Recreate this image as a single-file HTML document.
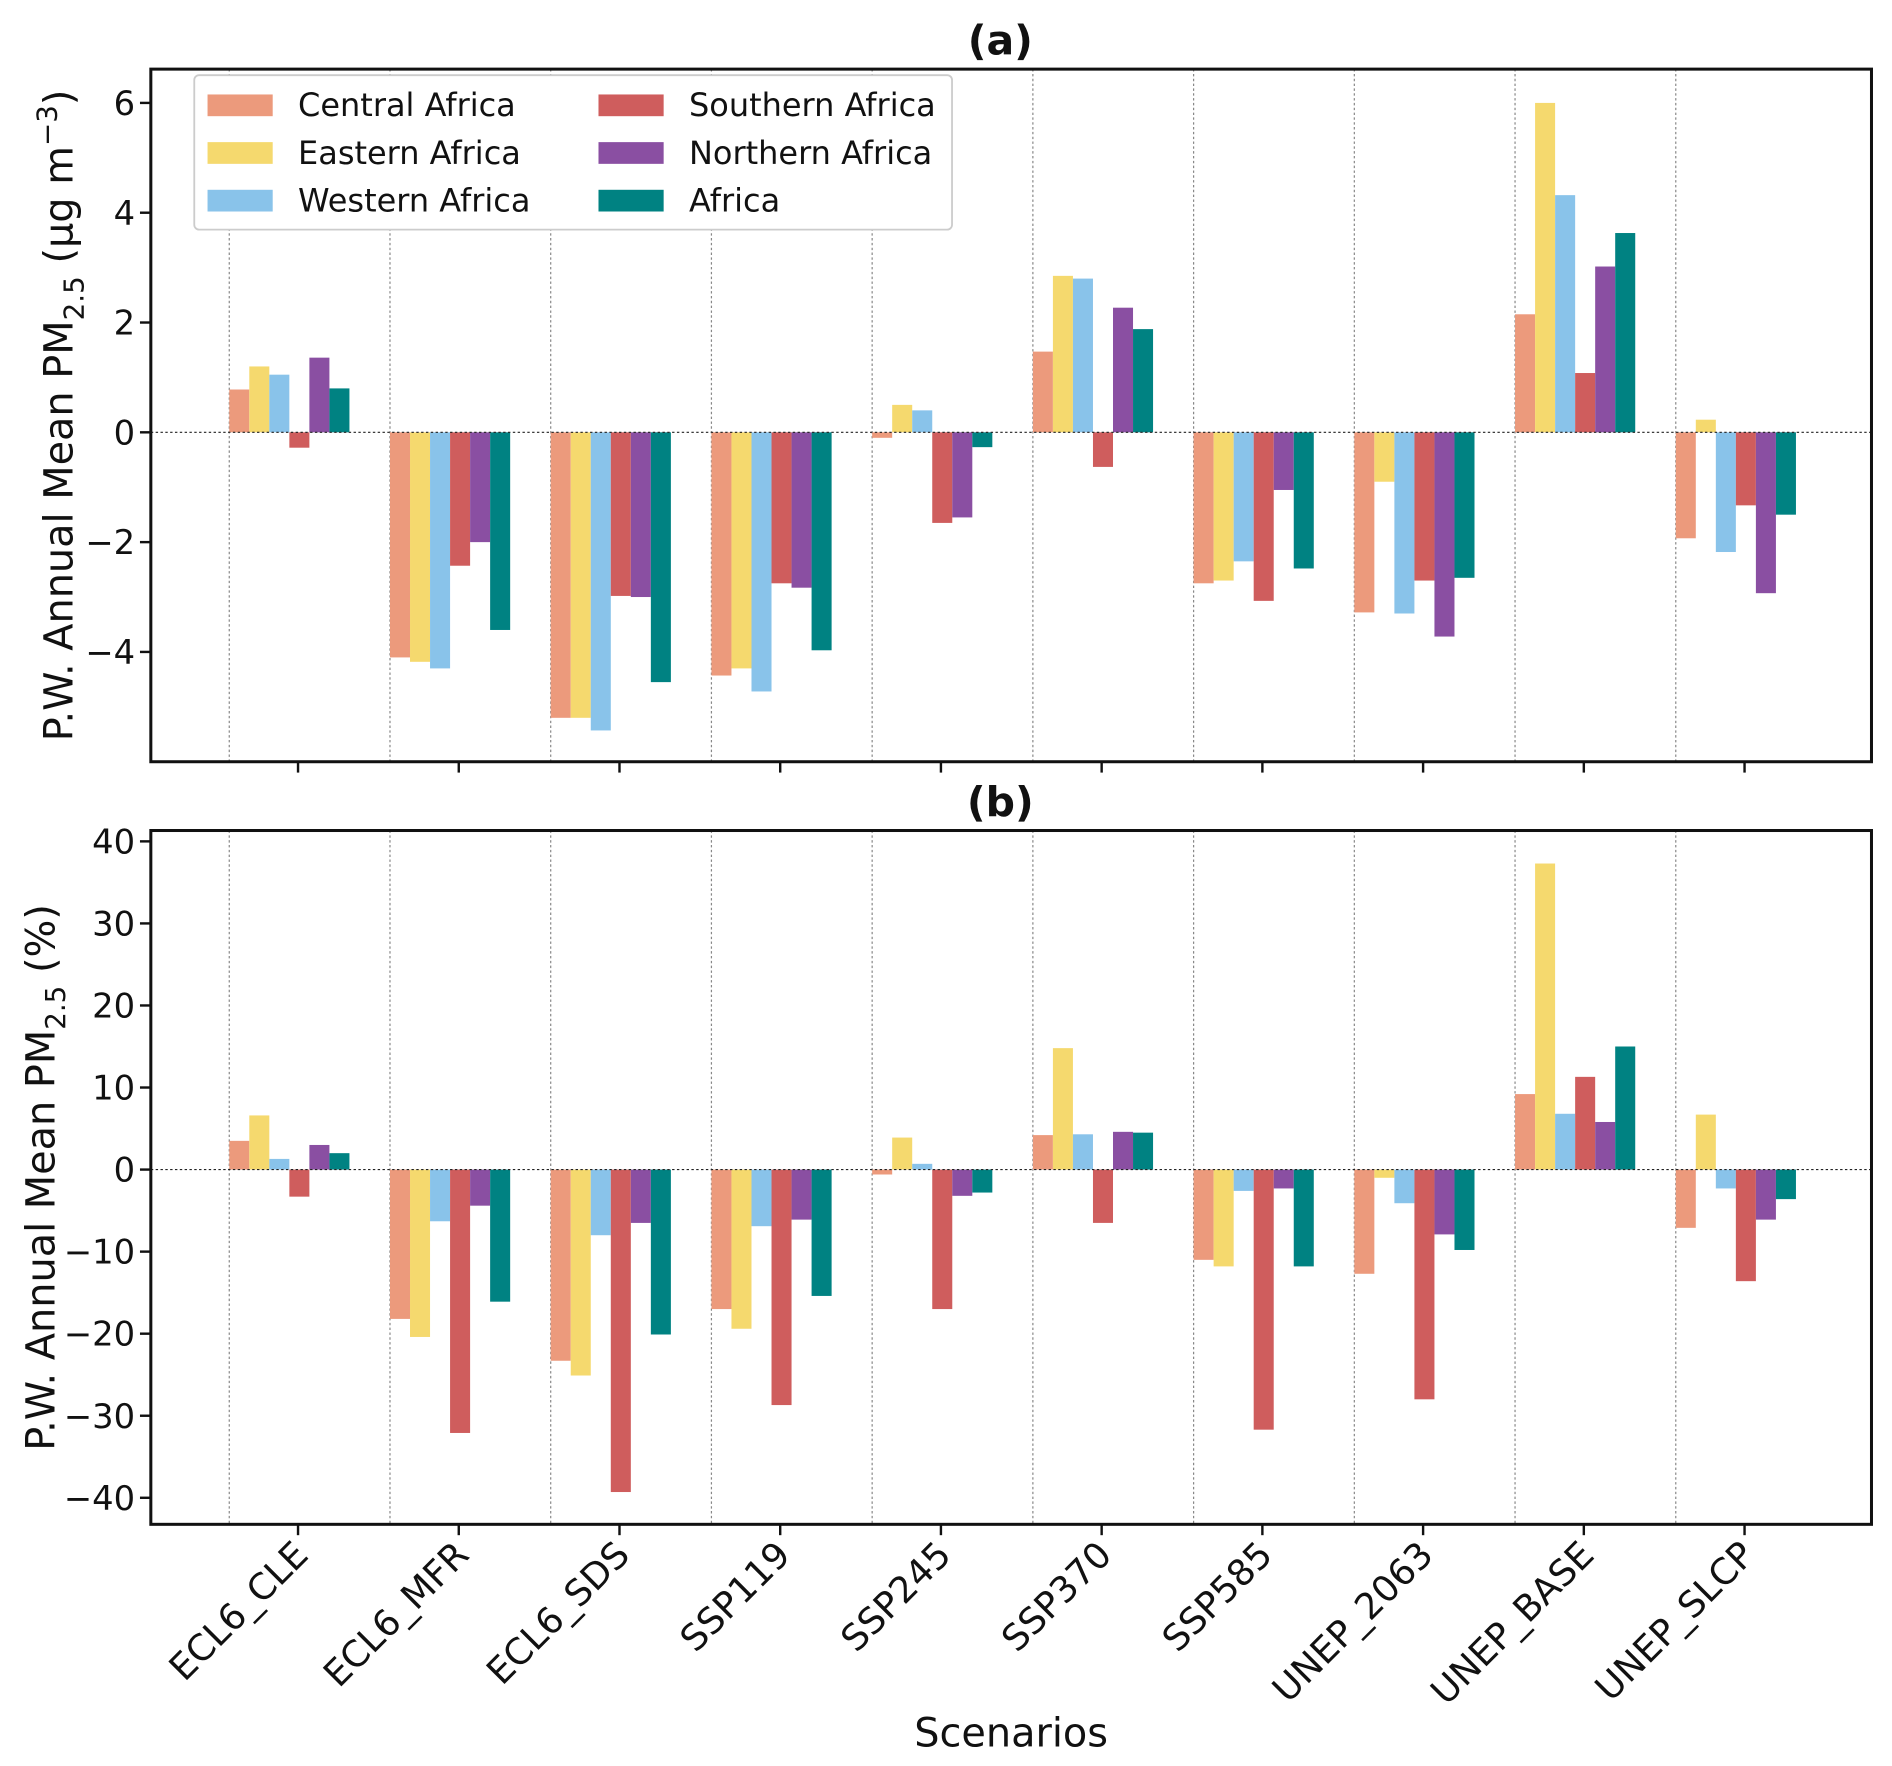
<!DOCTYPE html>
<html><head><meta charset="utf-8"><style>html,body{margin:0;padding:0;background:#fff}svg{display:block}text{font-family:"DejaVu Sans","Liberation Sans",sans-serif;fill:#111}</style></head>
<body>
<svg id="chart" width="1892" height="1766" viewBox="0 0 1568 1463" xmlns="http://www.w3.org/2000/svg"></svg>
<script>
const categories=["ECL6_CLE","ECL6_MFR","ECL6_SDS","SSP119","SSP245","SSP370","SSP585","UNEP_2063","UNEP_BASE","UNEP_SLCP"];
const seriesNames=["Central Africa","Eastern Africa","Western Africa","Southern Africa","Northern Africa","Africa"];
const seriesColors=["#ec9a7c","#f5d96e","#89c3ea","#cf5d5d","#8a4fa2","#008282"];
const absCentral=[0.78,-4.1,-5.2,-4.43,-0.1,1.47,-2.75,-3.28,2.15,-1.93];
const absEastern=[1.2,-4.18,-5.2,-4.3,0.5,2.85,-2.7,-0.9,6.0,0.23];
const absWestern=[1.05,-4.3,-5.43,-4.72,0.4,2.8,-2.35,-3.3,4.32,-2.18];
const absSouthern=[-0.28,-2.43,-2.98,-2.75,-1.65,-0.63,-3.07,-2.7,1.08,-1.33];
const absNorthern=[1.36,-2.0,-3.0,-2.83,-1.55,2.27,-1.05,-3.72,3.02,-2.93];
const absAfrica=[0.8,-3.6,-4.55,-3.97,-0.27,1.88,-2.48,-2.65,3.63,-1.5];
const pctCentral=[3.5,-18.2,-23.3,-17.0,-0.6,4.2,-11.0,-12.7,9.2,-7.1];
const pctEastern=[6.6,-20.4,-25.1,-19.4,3.9,14.8,-11.8,-1.0,37.3,6.7];
const pctWestern=[1.3,-6.3,-8.0,-6.9,0.7,4.3,-2.6,-4.1,6.8,-2.3];
const pctSouthern=[-3.3,-32.1,-39.3,-28.7,-17.0,-6.5,-31.7,-28.0,11.3,-13.6];
const pctNorthern=[3.0,-4.4,-6.5,-6.1,-3.2,4.6,-2.3,-7.9,5.8,-6.1];
const pctAfrica=[2.0,-16.1,-20.1,-15.4,-2.8,4.5,-11.8,-9.8,15.0,-3.6];
const ticksA=[-4,-2,0,2,4,6];
const ticksB=[-40,-30,-20,-10,0,10,20,30,40];

const NS="http://www.w3.org/2000/svg";
const svg=document.getElementById('chart');
function el(tag,attrs,parent){const e=document.createElementNS(NS,tag);for(const k in attrs)e.setAttribute(k,attrs[k]);(parent||svg).appendChild(e);return e;}
const X0=125,X1=1551;
function xCenter(i){return 247+i*133.2;}
function drawPanel(key,top,bottom,y0val,yScale,ticks,data,title,ytitleHtml,ytx,showLabels){
  const g=el('g',{});
  
  
  const y=v=>y0val-v*yScale;
  categories.forEach((c,i)=>{
    const gl=el('line',{x1:xCenter(i)-57,x2:xCenter(i)-57,y1:top,y2:bottom,stroke:'#888','stroke-width':1,'stroke-dasharray':'2,2'},g);
    
    
  });
  data.forEach((arr,s)=>{
    arr.forEach((v,i)=>{
      const x=xCenter(i)-57+s*16.6;
      const r=el('rect',{x:x,width:16.6,y:Math.min(y(v),y(0)),height:Math.abs(y(v)-y(0)),fill:seriesColors[s]},g);
      
      
    });
  });
  el('line',{x1:X0,x2:X1,y1:y(0),y2:y(0),stroke:'#222','stroke-width':1,'stroke-dasharray':'2,2'},g);
  ticks.forEach(t=>{
    el('line',{x1:X0-9,x2:X0,y1:y(t),y2:y(t),stroke:'#111','stroke-width':2},g);
    const tx=el('text',{x:X0-13,y:y(t)+10,'text-anchor':'end','font-size':28},g);
    tx.textContent=(t<0?'\u2212'+(-t):t);
    
    
  });
  categories.forEach((c,i)=>{
    el('line',{x1:xCenter(i),x2:xCenter(i),y1:bottom,y2:bottom+9,stroke:'#111','stroke-width':2},g);
    if(showLabels){
      const tx=el('text',{x:0,y:0,'text-anchor':'end','font-size':30,transform:`translate(${xCenter(i)+10},${bottom+27}) rotate(-45)`},g);
      tx.textContent=c;
      
      
    }
  });
  el('rect',{x:X0,y:top,width:X1-X0,height:bottom-top,fill:'none',stroke:'#111','stroke-width':2.5},g);
  const tt=el('text',{x:829,y:top-12,'text-anchor':'middle','font-size':34,'font-weight':'bold'},g);
  tt.textContent=title;
  
  
  const yt=el('text',{x:0,y:0,'text-anchor':'middle','font-size':33,transform:`translate(${ytx},${(top+bottom)/2}) rotate(-90)`},g);
  yt.innerHTML=ytitleHtml;
  
  
}
drawPanel('a',57,631,358,45.5,ticksA,[absCentral,absEastern,absWestern,absSouthern,absNorthern,absAfrica],'(a)','P.W. Annual Mean PM<tspan font-size="23" dy="9">2.5</tspan><tspan dy="-9"> (μg m</tspan><tspan font-size="23" dy="-13">−3</tspan><tspan dy="13">)</tspan>',60,false);
drawPanel('b',688,1263,969,6.8,ticksB,[pctCentral,pctEastern,pctWestern,pctSouthern,pctNorthern,pctAfrica],'(b)','P.W. Annual Mean PM<tspan font-size="23" dy="9">2.5</tspan><tspan dy="-9"> (%)</tspan>',45,true);
const xt=el('text',{x:838,y:1447,'text-anchor':'middle','font-size':33});
xt.textContent='Scenarios';


const lg=el('g',{});


el('rect',{x:161,y:62,width:628,height:128,fill:'#fff',stroke:'#ccc','stroke-width':1.5,rx:4},lg);
seriesNames.forEach((n,s)=>{
  const col=Math.floor(s/3),row=s%3;
  const px=col?496:172,py=78+row*39.5;
  const p=el('rect',{x:px,y:py,width:54,height:18,fill:seriesColors[s]},lg);
  
  
  const t=el('text',{x:px+75,y:py+18,'font-size':26.5},lg);
  t.textContent=n;
  
  
});
</script>
</body></html>
